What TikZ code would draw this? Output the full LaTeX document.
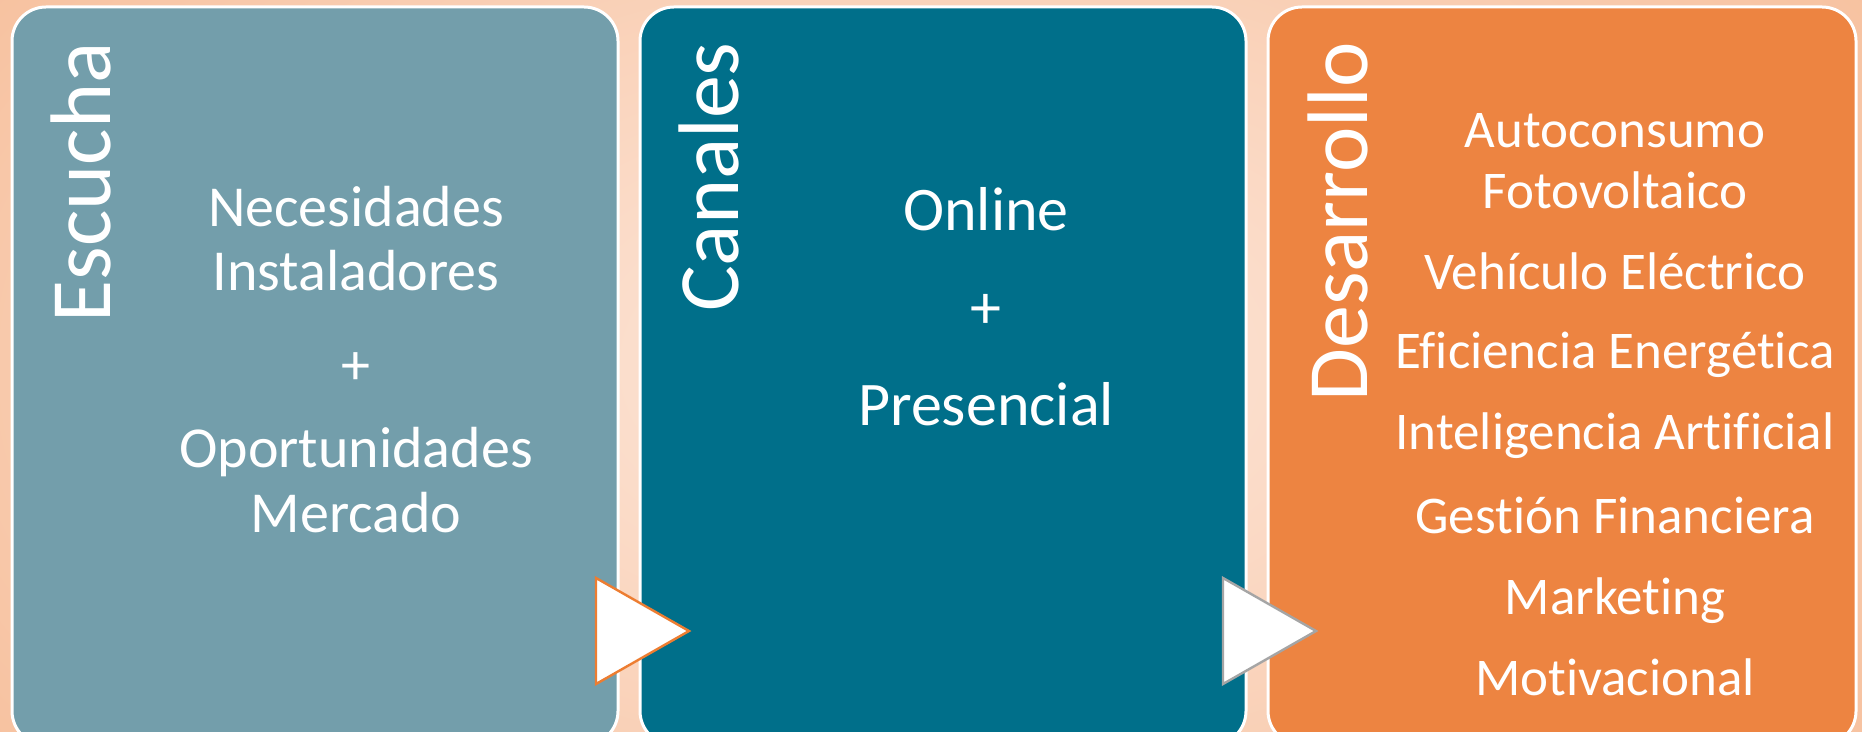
\documentclass[tikz,border=0pt]{standalone}
\usepackage{fontspec}
\setmainfont{Carlito}[Ligatures={NoCommon,NoRare,NoContextual}]
\definecolor{bgin}{HTML}{FDE8DC}
\definecolor{bgout}{HTML}{F7C2A0}
\definecolor{boxA}{HTML}{739EAB}
\definecolor{boxB}{HTML}{006F8A}
\definecolor{boxC}{HTML}{ED8441}
\definecolor{triA}{HTML}{ED7D31}
\definecolor{triB}{HTML}{A5A5A5}
\begin{document}
\begin{tikzpicture}[x=0.5pt,y=-0.5pt,
  panel/.style={draw=white,line width=1.5pt,rounded corners=17pt},
  title/.style={text=white,font=\fontsize{43}{46}\selectfont,rotate=90,anchor=east,inner sep=0pt},
  bodyA/.style={text=white,font=\fontsize{29}{32}\selectfont,inner sep=0pt},
  bodyB/.style={text=white,font=\fontsize{31}{34}\selectfont,inner sep=0pt},
  bodyC/.style={text=white,font=\fontsize{26.5}{30}\selectfont,inner sep=0pt},
  arrowtri/.style={fill=white,line width=1.2pt,line join=miter}]
\useasboundingbox (0,0) rectangle (1862,732);
\begin{scope}
\clip (0,0) rectangle (1862,732);
\shade[inner color=bgin,outer color=bgout] (-200,-300) rectangle (2062,1032);
\draw[panel,fill=boxA] (12,7) rectangle (618,745);
\draw[panel,fill=boxB] (640,7) rectangle (1246,745);
\draw[panel,fill=boxC] (1268,7) rectangle (1856,745);
\end{scope}
% titles
\node[title] (t1) at (81,42) {Escucha};
\node[title] (t2) at (709,42) {Canales};
\node[title] (t3) at (1338,42) {Desarrollo};
% column 1
\node[bodyA] (a1) at (356,207) {Necesidades};
\node[bodyA] (a2) at (356,271) {Instaladores};
\node[bodyA] (a3) at (356,369) {+};
\node[bodyA] (a4) at (356,452) {Oportunidades};
\node[bodyA] (a5) at (356,513) {Mercado};
% column 2
\node[bodyB] (b1) at (986,209) {Online};
\node[bodyB] (b2) at (986,311) {+};
\node[bodyB] (b3) at (986,404) {Presencial};
% column 3
\node[bodyC] (c1) at (1615,131) {Autoconsumo};
\node[bodyC] (c2) at (1615,190) {Fotovoltaico};
\node[bodyC] (c3) at (1615,271) {Vehículo Eléctrico};
\node[bodyC] (c4) at (1615,355) {Eficiencia Energética};
\node[bodyC] (c5) at (1615,436) {Inteligencia Artificial};
\node[bodyC] (c6) at (1615,515) {Gestión Financiera};
\node[bodyC] (c7) at (1615,601) {Marketing};
\node[bodyC] (c8) at (1615,677) {Motivacional};
% triangles
\draw[arrowtri,draw=triA] (596,578) -- (689,631) -- (596,684) -- cycle;
\draw[arrowtri,draw=triB] (1223,578) -- (1316,631) -- (1223,684) -- cycle;
\end{tikzpicture}
\end{document}
